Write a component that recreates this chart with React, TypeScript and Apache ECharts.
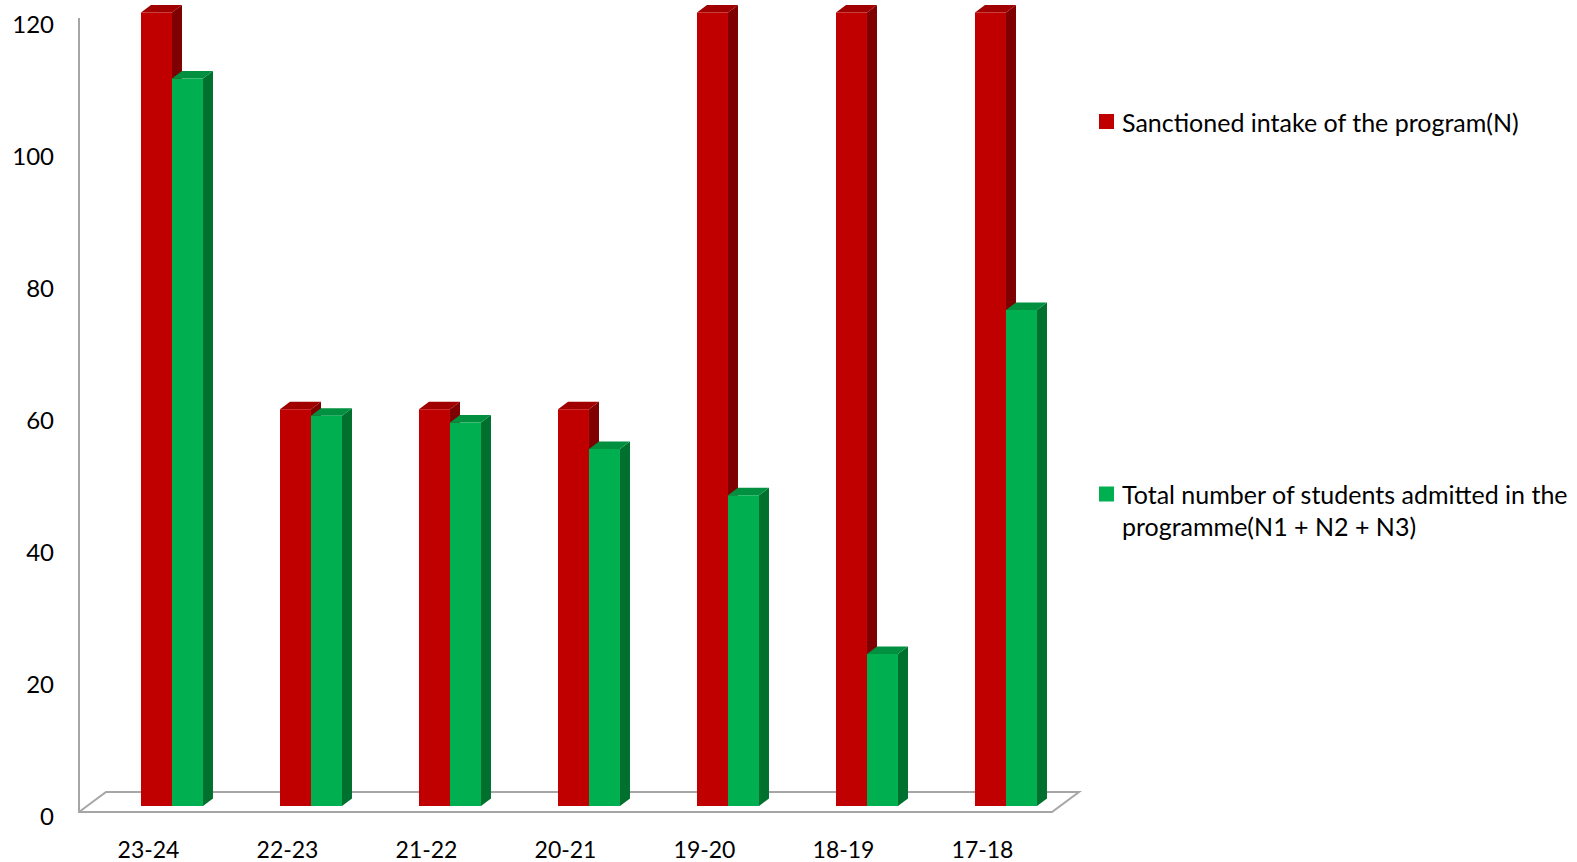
import React, { useEffect, useRef } from "react";
import * as echarts from "echarts";

const categories = ["23-24", "22-23", "21-22", "20-21", "19-20", "18-19", "17-18"];
const sanctioned = [120, 60, 60, 60, 120, 120, 120];
const admitted = [110, 59, 58, 54, 47, 23, 75];
const seriesNames = [
  "Sanctioned intake of the program(N)",
  "Total number of students admitted in the programme(N1 + N2 + N3)",
];
const yTicks = { min: 0, max: 120, interval: 20 };

const FONT = "Lato";

function make3DBar(offsetFrac: number, widthFrac: number, front: string, side: string, top: string) {
  return (params: any, api: any) => {
    const idx = api.value(0);
    const v = api.value(1);
    const c = api.coord([idx, v]);
    const z = api.coord([idx, 0]);
    const bw = api.size([1, 0])[0];
    const x0 = c[0] + bw * offsetFrac;
    const w = bw * widthFrac;
    const x1 = x0 + w;
    const bottom = z[1] - 9;
    const h = (z[1] - c[1]) * 1.002;
    const t = bottom - h;
    const dx = 10;
    const dy = 7.5;
    return {
      type: "group",
      children: [
        {
          type: "polygon",
          shape: { points: [[x1, bottom], [x1 + dx, bottom - dy], [x1 + dx, t - dy], [x1, t]] },
          style: { fill: side },
        },
        {
          type: "polygon",
          shape: { points: [[x0, t], [x0 + dx, t - dy], [x1 + dx, t - dy], [x1, t]] },
          style: { fill: top },
        },
        {
          type: "rect",
          shape: { x: x0, y: t, width: w, height: h },
          style: { fill: front },
        },
      ],
    };
  };
}

function renderFloor(params: any, api: any) {
  const cs = params.coordSys;
  const z = api.coord([0, 0]);
  const frontY = z[1] - 3;
  const backY = frontY - 20;
  const left = cs.x;
  const right = cs.x + cs.width;
  const dx = 27;
  const stroke = { stroke: "#a6a6a6", lineWidth: 2, fill: "none" };
  return {
    type: "group",
    children: [
      {
        type: "polyline",
        shape: {
          points: [
            [left, cs.y - 5],
            [left, frontY],
            [right, frontY],
            [right + dx, backY],
            [left + dx, backY],
            [left, frontY],
          ],
        },
        style: stroke,
      },
    ],
  };
}

export default function App() {
  const ref = useRef<HTMLDivElement>(null);
  useEffect(() => {
    if (!ref.current) return;
    const chart = echarts.init(ref.current, undefined, { renderer: "svg" });
    const sqPath = "path://M0,0H15V15H0Z M0,47";
    chart.setOption({
      animation: false,
      backgroundColor: "#ffffff",
      grid: { left: 79, top: 23, width: 973, height: 792 },
      xAxis: {
        type: "category",
        data: categories,
        axisLine: { show: false },
        axisTick: { show: false },
        axisLabel: { color: "#000", fontFamily: FONT, fontSize: 23, margin: 22 },
      },
      yAxis: {
        type: "value",
        min: yTicks.min,
        max: yTicks.max,
        interval: yTicks.interval,
        axisLine: { show: false },
        axisTick: { show: false },
        splitLine: { show: false },
        axisLabel: { color: "#000", fontFamily: FONT, fontSize: 24, margin: 25 },
      },
      legend: [
        {
          data: [{ name: seriesNames[0], icon: "rect" }],
          left: 1094,
          top: 104,
          orient: "vertical",
          itemWidth: 15,
          itemHeight: 15,
          itemGap: 8,
          textStyle: { color: "#000", fontFamily: FONT, fontSize: 25, padding: [0, 0, 0, 3] },
          selectedMode: false,
        },
        {
          data: [{ name: seriesNames[1], icon: sqPath }],
          left: 1094,
          top: 473,
          orient: "vertical",
          itemWidth: 15,
          itemHeight: 47,
          itemGap: 8,
          formatter: () => "Total number of students admitted in the\nprogramme(N1 + N2 + N3)",
          textStyle: { color: "#000", fontFamily: FONT, fontSize: 25, lineHeight: 32, padding: [0, 0, 0, 3] },
          selectedMode: false,
        },
      ],
      series: [
        {
          type: "custom",
          name: "floor",
          data: [[0, 0]],
          renderItem: renderFloor,
          silent: true,
          z: 1,
        },
        {
          type: "custom",
          name: seriesNames[0],
          data: sanctioned.map((v, i) => [i, v]),
          encode: { x: 0, y: 1 },
          renderItem: make3DBar(-0.054, 0.223, "#c00000", "#7f0000", "#a00000"),
          itemStyle: { color: "#c00000" },
          z: 2,
        },
        {
          type: "custom",
          name: seriesNames[1],
          data: admitted.map((v, i) => [i, v]),
          encode: { x: 0, y: 1 },
          renderItem: make3DBar(0.169, 0.223, "#00b050", "#00702f", "#00903f"),
          itemStyle: { color: "#00b050" },
          z: 3,
        },
      ],
    });
    return () => chart.dispose();
  }, []);
  return (
    <div
      ref={ref}
      style={{ position: "fixed", left: 0, top: 0, width: 1577, height: 862, background: "#fff" }}
    />
  );
}
